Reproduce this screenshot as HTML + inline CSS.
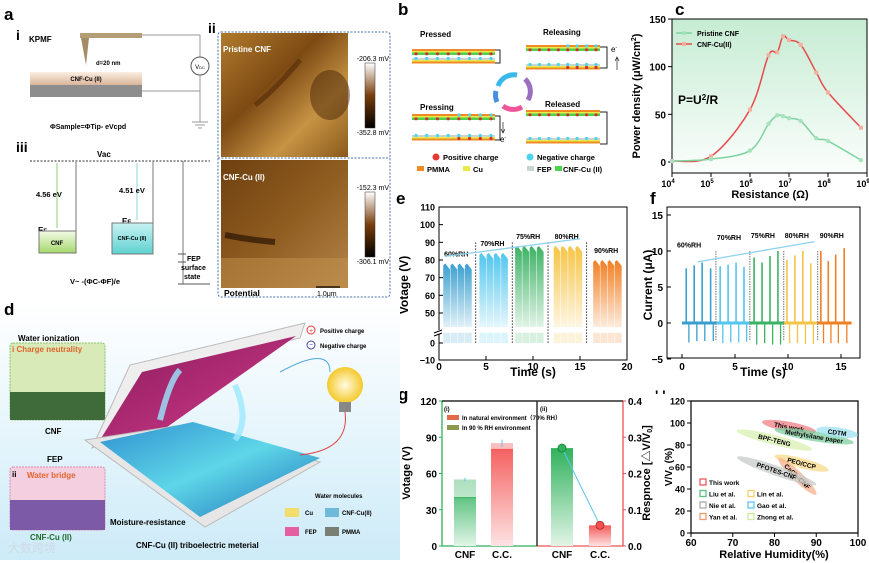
<!DOCTYPE html>
<html><head><meta charset="utf-8"><style>
html,body{margin:0;padding:0;background:#fff}
svg{display:block;font-family:"Liberation Sans","Noto Sans CJK SC",sans-serif}
.b{font-weight:bold}
</style></head><body>
<svg id="fig" width="869" height="563" viewBox="0 0 869 563" xmlns="http://www.w3.org/2000/svg">
<defs>
<linearGradient id="gBeige" x1="0" y1="0" x2="0" y2="1"><stop offset="0" stop-color="#fbeee2"/><stop offset="1" stop-color="#d9b59a"/></linearGradient>
<linearGradient id="gCnf" x1="0" y1="0" x2="0" y2="1"><stop offset="0" stop-color="#f4fbe6"/><stop offset="1" stop-color="#a5d86b"/></linearGradient>
<linearGradient id="gCu" x1="0" y1="0" x2="0" y2="1"><stop offset="0" stop-color="#c9f3f3"/><stop offset="1" stop-color="#5ed1cf"/></linearGradient>
<linearGradient id="gAfm" x1="0" y1="0" x2="1" y2="1"><stop offset="0" stop-color="#b07a2c"/><stop offset=".4" stop-color="#7d4a14"/><stop offset=".7" stop-color="#c69344"/><stop offset="1" stop-color="#8a5a1c"/></linearGradient>
<linearGradient id="gAfm2" x1="0" y1="0" x2="1" y2="1"><stop offset="0" stop-color="#6e4010"/><stop offset=".5" stop-color="#8f5c20"/><stop offset="1" stop-color="#b48448"/></linearGradient>
<linearGradient id="gBar" x1="0" y1="1" x2="0" y2="0"><stop offset="0" stop-color="#000"/><stop offset=".5" stop-color="#7a3e0c"/><stop offset="1" stop-color="#fff"/></linearGradient>
<linearGradient id="gC" x1="0" y1="0" x2="0" y2="1"><stop offset="0" stop-color="#c6ecd3"/><stop offset="1" stop-color="#fbfefc"/></linearGradient>
<linearGradient id="gD" x1="0" y1="0" x2="0" y2="1"><stop offset="0" stop-color="#fff"/><stop offset="1" stop-color="#cdebf8"/></linearGradient>
<linearGradient id="gMag" x1="0" y1="0" x2="1" y2="1"><stop offset="0" stop-color="#8a1a5a"/><stop offset="1" stop-color="#d23d8c"/></linearGradient>
<linearGradient id="gBlue" x1="0" y1="0" x2="1" y2="1"><stop offset="0" stop-color="#2f8fd0"/><stop offset=".5" stop-color="#5ed6e8"/><stop offset="1" stop-color="#1d6fb8"/></linearGradient>
<linearGradient id="gGreenBar" x1="0" y1="0" x2="0" y2="1"><stop offset="0" stop-color="#2fb15b"/><stop offset="1" stop-color="#e2f5e8"/></linearGradient>
<linearGradient id="gRedBar" x1="0" y1="0" x2="0" y2="1"><stop offset="0" stop-color="#f45a5a"/><stop offset="1" stop-color="#fde3e3"/></linearGradient>
<radialGradient id="gBulb"><stop offset="0" stop-color="#fffbe0"/><stop offset="1" stop-color="#f5c92c"/></radialGradient>
</defs>

<!-- ===== Panel a ===== -->
<g>
<text x="4" y="20" font-size="17" class="b">a</text>
<text x="16" y="40" font-size="14" class="b">i</text>
<text x="29" y="42" font-size="8" class="b">KPMF</text>
<rect x="80" y="33" width="62" height="5" fill="#b49e78"/>
<polygon points="81,38 89,38 86,65" fill="#a48c66"/>
<text x="96" y="65" font-size="6" class="b">d=20 nm</text>
<rect x="30" y="72" width="112" height="13" fill="url(#gBeige)"/>
<text x="86" y="81" font-size="6" text-anchor="middle" class="b">CNF-Cu (II)</text>
<rect x="30" y="85" width="112" height="12" fill="#8d8d8d"/>
<path d="M142 35 H200 V57 M200 75 V122 M142 91 H200 M192 122 H208 M195 125 H205 M198 128 H202" stroke="#999" fill="none"/>
<circle cx="200" cy="66" r="9" fill="#fff" stroke="#555"/>
<text x="200" y="69" font-size="6" text-anchor="middle">V<tspan font-size="4">DC</tspan></text>
<text x="50" y="129" font-size="7" class="b">ΦSample=ΦTip- eVcpd</text>
<text x="208" y="33" font-size="14" class="b">ii</text>
<text x="16" y="152" font-size="14" class="b">iii</text>
<line x1="30" y1="161" x2="210" y2="161" stroke="#333" stroke-dasharray="2,1.5"/>
<text x="97" y="157" font-size="8" class="b">Vac</text>
<line x1="76" y1="161" x2="76" y2="231" stroke="#777"/>
<line x1="57" y1="163" x2="57" y2="228" stroke="#8fd16a"/>
<text x="36" y="197" font-size="7.5" class="b">4.56 eV</text>
<text x="38" y="233" font-size="8" class="b">E<tspan font-size="6">F</tspan></text>
<rect x="39" y="231" width="37" height="22" fill="url(#gCnf)" stroke="#777"/>
<text x="57" y="245" font-size="6" text-anchor="middle" class="b">CNF</text>
<line x1="153" y1="161" x2="153" y2="223" stroke="#777"/>
<line x1="137" y1="163" x2="137" y2="220" stroke="#8ad9e0"/>
<text x="119" y="193" font-size="7.5" class="b">4.51 eV</text>
<text x="122" y="224" font-size="8" class="b">E<tspan font-size="6">F</tspan></text>
<rect x="112" y="223" width="41" height="31" fill="url(#gCu)" stroke="#777"/>
<text x="132" y="240" font-size="5.5" text-anchor="middle" class="b">CNF-Cu (II)</text>
<line x1="183" y1="161" x2="183" y2="284" stroke="#777"/>
<path d="M178 254 H186 M178 262 H186 M178 284 H210" stroke="#555"/>
<text x="187" y="261" font-size="7" class="b">FEP</text>
<text x="181" y="270" font-size="7" class="b">surface</text>
<text x="184" y="279" font-size="7" class="b">state</text>
<text x="70" y="284" font-size="7.5" class="b">V~ -(ΦC-ΦF)/e</text>
<rect x="218" y="32" width="172" height="265" rx="3" fill="none" stroke="#4a6fa8" stroke-dasharray="2,1.5"/>
<line x1="218" y1="158" x2="390" y2="158" stroke="#4a6fa8" stroke-dasharray="2,1.5"/>
<rect x="221" y="33" width="127" height="124" fill="url(#gAfm)"/>
<path d="M300 60 Q275 90 255 105" stroke="#5a300a" stroke-width="5" fill="none" opacity=".7"/>
<ellipse cx="330" cy="95" rx="20" ry="25" fill="#4a2606" opacity=".5"/>
<rect x="221" y="160" width="127" height="128" fill="url(#gAfm2)"/>
<path d="M225 235 Q250 240 275 242" stroke="#2a1403" stroke-width="6" fill="none" opacity=".7"/>
<rect x="221" y="258" width="127" height="30" fill="#c49450" opacity=".5"/>
<text x="223" y="52" font-size="8" fill="#fff" class="b">Pristine CNF</text>
<text x="223" y="180" font-size="8" fill="#fff" class="b">CNF-Cu (II)</text>
<rect x="365" y="63" width="10" height="65" fill="url(#gBar)" stroke="#333" stroke-width=".5"/>
<rect x="365" y="192" width="10" height="65" fill="url(#gBar)" stroke="#333" stroke-width=".5"/>
<text x="389" y="61" font-size="7" text-anchor="end">-206.3 mV</text>
<text x="389" y="135" font-size="7" text-anchor="end">-352.8 mV</text>
<text x="389" y="190" font-size="7" text-anchor="end">-152.3 mV</text>
<text x="389" y="264" font-size="7" text-anchor="end">-306.1 mV</text>
<text x="224" y="296" font-size="8.5" class="b">Potential</text>
<line x1="316" y1="287" x2="340" y2="287" stroke="#000" stroke-width="1.2"/>
<text x="317" y="296" font-size="7">1.0μm</text>
</g>

<!-- ===== Panel b ===== -->
<g id="panelB">
<text x="398" y="15" font-size="17" class="b">b</text>
<text x="420" y="37" font-size="8" class="b">Pressed</text>
<text x="543" y="35" font-size="8" class="b">Releasing</text>
<text x="420" y="110" font-size="8" class="b">Pressing</text>
<text x="545" y="107" font-size="8" class="b">Released</text>
<path d="M495 50 H500 V63 H495 M600 47 H607 V68 H600 M495 116 H500 V140 H495 M600 112 H607 V144 H600" stroke="#222" fill="none"/>
<text x="611" y="52" font-size="8">e<tspan font-size="5" dy="-3">-</tspan></text>
<path d="M617 70 V58 M615 61 L617 57 L619 61" stroke="#222" fill="none" stroke-width=".7"/>
<text x="500" y="142" font-size="8">e<tspan font-size="5" dy="-3">-</tspan></text>
<path d="M503 122 V132 M501 129 L503 133 L505 129" stroke="#222" fill="none" stroke-width=".7"/>
<g fill="none" stroke-width="5">
<path d="M498 86 A17 17 0 0 1 517 75" stroke="#39b8ea"/>
<path d="M525 79 A17 17 0 0 1 528 100" stroke="#9a6fc0"/>
<path d="M522 107 A17 17 0 0 1 503 106" stroke="#f0559a"/>
<path d="M497 102 A17 17 0 0 1 496 91" stroke="#4b8fe0"/>
</g>
<circle cx="436" cy="157" r="3.5" fill="#e53935"/><text x="443" y="160" font-size="7.5" class="b">Positive charge</text>
<circle cx="530" cy="157" r="3.5" fill="#4fd2ee"/><text x="537" y="160" font-size="7.5" class="b">Negative charge</text>
<rect x="417" y="166" width="7" height="5" fill="#f08a24"/><text x="427" y="172" font-size="7.5" class="b">PMMA</text>
<rect x="463" y="166" width="7" height="5" fill="#e7ea4a"/><text x="473" y="172" font-size="7.5" class="b">Cu</text>
<rect x="527" y="166" width="7" height="5" fill="#c8d6cf"/><text x="537" y="172" font-size="7.5" class="b">FEP</text>
<rect x="555" y="166" width="7" height="5" fill="#4bd44b"/><text x="563" y="172" font-size="7.5" class="b">CNF-Cu (II)</text>
</g>

<!-- ===== Panel c ===== -->
<g id="panelC">
<text x="675" y="15" font-size="17" class="b">c</text>
<rect x="672" y="19" width="195" height="154" fill="url(#gC)" stroke="#000"/>
<text transform="translate(640,96) rotate(-90)" font-size="11" text-anchor="middle" class="b">Power density (μW/cm<tspan font-size="7" dy="-4">2</tspan><tspan dy="4">)</tspan></text>
<text x="770" y="198" font-size="11" text-anchor="middle" class="b">Resistance (Ω)</text>
<text x="678" y="104" font-size="12" class="b">P=U<tspan font-size="8" dy="-4">2</tspan><tspan dy="4">/R</tspan></text>
<line x1="676" y1="33" x2="692" y2="33" stroke="#7fd3a0" stroke-width="1.5"/><circle cx="684" cy="33" r="2" fill="#9fe0b8"/>
<text x="697" y="36" font-size="7" class="b">Pristine CNF</text>
<line x1="676" y1="44" x2="692" y2="44" stroke="#e84a4a" stroke-width="1.5"/><rect x="682" y="42" width="4" height="4" fill="#f2b0a0"/>
<text x="697" y="47" font-size="7" class="b">CNF-Cu(II)</text>
</g>

<!-- ===== Panel e ===== -->
<g id="panelE">
<text x="396" y="204" font-size="17" class="b">e</text>
<rect x="439" y="207" width="188" height="153" fill="none" stroke="#000"/>
<text transform="translate(408,285) rotate(-90)" font-size="12" text-anchor="middle" class="b">Votage (V)</text>
<text x="533" y="376" font-size="12" text-anchor="middle" class="b">Time (s)</text>
</g>

<!-- ===== Panel f ===== -->
<g id="panelF">
<text x="650" y="204" font-size="17" class="b">f</text>
<rect x="667" y="207" width="193" height="151" fill="none" stroke="#000"/>
<text transform="translate(652,285) rotate(-90)" font-size="12" text-anchor="middle" class="b">Current (μA)</text>
<text x="763" y="376" font-size="12" text-anchor="middle" class="b">Time (s)</text>
</g>

<!-- ===== Panel g ===== -->
<g id="panelG">
<text x="398" y="400" font-size="17" class="b">g</text>
<text transform="translate(410,473) rotate(-90)" font-size="11" text-anchor="middle" class="b">Votage (V)</text>
<text transform="translate(650,473) rotate(-90)" font-size="11" text-anchor="middle" class="b">Respnoce [△V/V<tspan font-size="7" dy="2">0</tspan><tspan dy="-2">]</tspan></text>
<text x="444" y="411" font-size="6" class="b">(i)</text>
<text x="540" y="411" font-size="6" class="b">(ii)</text>
<rect x="447" y="415" width="12" height="5" fill="#e2694e"/><text x="462" y="420" font-size="6" class="b">In natural environment（70% RH）</text>
<rect x="447" y="425" width="12" height="5" fill="#8c9a4e"/><text x="462" y="430" font-size="6" class="b">In 90 % RH environment</text>
</g>

<!-- ===== Panel h ===== -->
<g id="panelH">
<text x="655" y="400" font-size="14" class="b">' '</text>
<text transform="translate(672,467) rotate(-90)" font-size="10" text-anchor="middle" class="b">V/V<tspan font-size="7" dy="2">0</tspan><tspan dy="-2"> (%)</tspan></text>
<text x="774" y="558" font-size="11" text-anchor="middle" class="b">Relative Humidity(%)</text>
</g>

<!-- ===== Panel d ===== -->
<g>
<rect x="0" y="303" width="400" height="257" fill="url(#gD)"/>
<text x="4" y="315" font-size="17" class="b">d</text>
<text x="18" y="341" font-size="8" class="b">Water ionization</text>
<rect x="10" y="343" width="95" height="77" rx="3" fill="#d7eab8" stroke="#8bc36a" stroke-dasharray="2,1"/>
<rect x="10" y="392" width="95" height="28" fill="#3f6a3a"/>
<text x="12" y="352" font-size="8" fill="#e0642c" class="b">i Charge neutrality</text>
<text x="45" y="434" font-size="8" class="b">CNF</text>
<text x="47" y="462" font-size="8" class="b">FEP</text>
<rect x="10" y="467" width="95" height="63" rx="3" fill="#f4cfe0" stroke="#e08ab0" stroke-dasharray="2,1"/>
<rect x="10" y="500" width="95" height="30" fill="#7c5aa8"/>
<text x="12" y="477" font-size="8" class="b">ii</text>
<text x="27" y="478" font-size="8" fill="#e0642c" class="b">Water bridge</text>
<text x="30" y="540" font-size="8" fill="#1f6b2a" class="b">CNF-Cu (II)</text>
<polygon points="92,448 130,365 305,323 300,338 143,375 100,445" fill="#eee" stroke="#bbb"/>
<polygon points="100,440 142,372 296,336 160,432" fill="url(#gMag)"/>
<polygon points="85,440 188,424 320,462 205,527" fill="#e6e6e6" stroke="#bbb"/>
<polygon points="100,442 193,422 320,458 200,517" fill="url(#gBlue)"/>
<path d="M160 420 Q170 380 180 370 M235 385 Q250 420 235 440" stroke="#9be8ff" stroke-width="6" fill="none" opacity=".8"/>
<circle cx="345" cy="385" r="18" fill="url(#gBulb)"/>
<rect x="339" y="402" width="12" height="10" fill="#888"/>
<path d="M280 372 Q330 345 330 372" stroke="#4aa8e0" fill="none"/>
<path d="M345 412 Q350 450 300 455" stroke="#e04040" fill="none"/>
<circle cx="311" cy="330" r="4" fill="#fff" stroke="#e33"/><text x="311" y="333" font-size="7" fill="#e33" text-anchor="middle">+</text>
<text x="320" y="333" font-size="6" class="b">Positive charge</text>
<circle cx="311" cy="345" r="4" fill="#fff" stroke="#44a"/><text x="311" y="347" font-size="7" fill="#44a" text-anchor="middle">−</text>
<text x="320" y="348" font-size="6" class="b">Negative charge</text>
<text x="315" y="498" font-size="6" class="b">Water molecules</text>
<rect x="285" y="508" width="14" height="9" fill="#f2dc6a"/><text x="305" y="515" font-size="6" class="b">Cu</text>
<rect x="325" y="508" width="14" height="9" fill="#6fb9d9"/><text x="342" y="515" font-size="6" class="b">CNF-Cu(II)</text>
<rect x="285" y="527" width="14" height="9" fill="#e45fa0"/><text x="305" y="534" font-size="6" class="b">FEP</text>
<rect x="325" y="527" width="14" height="9" fill="#7a7f74"/><text x="342" y="534" font-size="6" class="b">PMMA</text>
<text x="110" y="525" font-size="8" class="b">Moisture-resistance</text>
<text x="136" y="548" font-size="8" class="b">CNF-Cu (II) triboelectric meterial</text>
<text x="8" y="552" font-size="12" fill="#cfdbe6">大数跨境</text>
</g>
</svg>
<script>
var NS="http://www.w3.org/2000/svg";
function mk(parent,tag,attrs){var e=document.createElementNS(NS,tag);for(var k in attrs)e.setAttribute(k,attrs[k]);parent.appendChild(e);return e;}
function txt(parent,x,y,s,size,anchor,extra){var t=mk(parent,'text',{x:x,y:y,'font-size':size,'text-anchor':anchor||'start'});if(extra)for(var k in extra)t.setAttribute(k,extra[k]);t.textContent=s;return t;}

/* ---------- Panel c data ---------- */
var cResist=[1e4,1e5,1e6,3e6,5e6,7e6,1e7,2e7,5e7,1e8,7e8];
var cRed=[1,6,55,112,115,132,128,123,94,73,36];
var cGreen=[1,3,12,40,49,48,46,43,25,22,2];
var cYTicks=[0,50,100,150];
var cXTickExp=[4,5,6,7,8,9];

/* ---------- Panel e data ---------- */
var eGroups=['60%RH','70%RH','75%RH','80%RH','90%RH'];
var eGroupStart=[0.45,4.3,8.1,12.2,16.4];
var ePeaks=[78,84,88,88,80];
var eDividers=[3.9,7.8,11.6,15.7];
var eYTicksTop=[50,60,70,80,90,100,110];
var eYTicksBot=[-10,0];
var eXTicks=[0,5,10,15,20];
var eColors=['#3a9fcf','#52c6ee','#3cb264','#f6c445','#f17f23'];

/* ---------- Panel f data ---------- */
var fTimes=[0.4,1.15,1.9,2.7, 3.6,4.35,5.1,5.85, 6.8,7.55,8.3,9.05, 9.9,10.65,11.4,12.15, 13.1,13.8,14.5,15.3];
var fPeaks=[7.6,8.0,8.4,7.6, 7.9,8.1,8.4,7.8, 9.1,8.4,9.3,10.0, 8.8,9.4,10.0,8.3, 10.0,8.6,9.5,10.4];
var fNeg=[-2.7,-2.5,-2.5,-2.5, -2.8,-2.7,-2.7,-2.6, -3.0,-2.8,-3.0,-3.0, -2.8,-2.8,-2.9,-2.9, -2.8,-2.8,-2.8,-2.8];
var fDividers=[3.2,6.4,9.6,12.8];
var fYTicks=[-5,0,5,10,15];
var fXTicks=[0,5,10,15];
var fGroupLabelT=[0,3.2,6.4,9.6,12.9];
var fGroupLabelV=[10.5,11.5,11.8,11.8,11.8];

/* ---------- Panel g data ---------- */
var gCats=['CNF','C.C.','CNF','C.C.'];
var gNatural=[55,85];
var gHumid=[40,80];
var gErr=[1.5,3];
var gResponse=[0.27,0.057];
var gYTicks=[0,30,60,90,120];
var gRTicks=[0.0,0.1,0.2,0.3,0.4];

/* ---------- Panel h data ---------- */
var hNames=['This work','Methylsilane paper','CDTM','BPF-TENG','PEO/CCP','CaCl₂-CNF','PFOTES-CNF'];
var hX1=[77,80,90,71,80,81,71];
var hY1=[101,94,94,93,70,68,69];
var hX2=[90,99,100,89,93,90,90];
var hY2=[92,82,89,76,57,35,44];
var hColors=['#f07f86','#7fcf9f','#9fe2f2','#d9f0b0','#f8d98a','#f6b08c','#c7cbc9'];
var hXTicks=[60,70,80,90,100];
var hYTicks=[0,20,40,60,80,100,120];
var hLegend=['This work','Liu et al.','Nie et al.','Yan et al.','Lin et al.','Gao et al.','Zhong et al.'];
var hLegendColors=['#ee5a5a','#5cc07e','#aaaaaa','#f59a6a','#f6cf6a','#5ec9ee','#cfeaa0'];

function smoothPath(pts){
  var d='M'+pts[0][0]+','+pts[0][1];
  for(var i=0;i<pts.length-1;i++){
    var p0=pts[i-1]||pts[i],p1=pts[i],p2=pts[i+1],p3=pts[i+2]||p2;
    var c1x=p1[0]+(p2[0]-p0[0])/6,c1y=p1[1]+(p2[1]-p0[1])/6,c2x=p2[0]-(p3[0]-p1[0])/6,c2y=p2[1]-(p3[1]-p1[1])/6;
    d+=' C'+c1x+','+c1y+' '+c2x+','+c2y+' '+p2[0]+','+p2[1];
  }
  return d;
}

/* ---- draw b stacks ---- */
(function(){
  var g=document.getElementById('panelB');
  function topPlate(x,y,w,negFrom){
    var s=mk(g,'g',{});
    
    
    mk(s,'rect',{x:x,y:y,width:w,height:2,fill:'#f08a24'});
    mk(s,'rect',{x:x,y:y+2,width:w,height:1.5,fill:'#e7ea4a'});
    mk(s,'rect',{x:x,y:y+3.5,width:w,height:2.5,fill:'#4bd44b'});
    for(var i=0;i<8;i++){var cx=x+4+i*(w-8)/7;mk(s,'circle',{cx:cx,cy:y+4.8,r:1.6,fill:'#d62e2e'});if(negFrom!==null&&i>=negFrom)mk(s,'circle',{cx:cx,cy:y+1,r:1.6,fill:'#4fd2ee'});}
  }
  function botPlate(x,y,w,posFrom){
    var s=mk(g,'g',{});
    
    
    mk(s,'rect',{x:x,y:y,width:w,height:2,fill:'#c8d6cf'});
    mk(s,'rect',{x:x,y:y+2,width:w,height:1.5,fill:'#e7ea4a'});
    mk(s,'rect',{x:x,y:y+3.5,width:w,height:2,fill:'#f08a24'});
    for(var i=0;i<8;i++){var cx=x+4+i*(w-8)/7;mk(s,'circle',{cx:cx,cy:y+0.5,r:1.6,fill:'#4fd2ee'});if(posFrom!==null&&i>=posFrom)mk(s,'circle',{cx:cx,cy:y+3.5,r:1.6,fill:'#d62e2e'});}
  }
  topPlate(412,49,83,null); botPlate(412,58,83,null);
  topPlate(526,45,74,4); botPlate(526,64,74,4);
  topPlate(412,114,83,4); botPlate(412,135,83,4);
  topPlate(526,110,74,null); botPlate(526,138,74,null);
})();

/* ---- draw c ---- */
(function(){
  var g=document.getElementById('panelC');
  var x=function(r){return 672+(Math.log10(r)-4)*39;};
  var y=function(v){return 162-v*143/150;};
  cYTicks.forEach(function(v){mk(g,'line',{x1:672,x2:668,y1:y(v),y2:y(v),stroke:'#000'});txt(g,666,y(v)+4,String(v),10,'end',{'font-weight':'bold'});});
  cXTickExp.forEach(function(e){var t=txt(g,x(Math.pow(10,e))-4,187,'10',9,'middle',{'font-weight':'bold'});var s=document.createElementNS(NS,'tspan');s.setAttribute('font-size','6');s.setAttribute('dy','-4');s.textContent=String(e);t.appendChild(s);mk(g,'line',{x1:x(Math.pow(10,e)),x2:x(Math.pow(10,e)),y1:173,y2:177,stroke:'#000'});});
  var rp=cResist.map(function(r,i){return [x(r),y(cRed[i])];});
  var gp=cResist.map(function(r,i){return [x(r),y(cGreen[i])];});
  var lr=mk(g,'path',{d:smoothPath(rp),fill:'none',stroke:'#e84a4a','stroke-width':1.5});
  
  
  var lg=mk(g,'path',{d:smoothPath(gp),fill:'none',stroke:'#7fd3a0','stroke-width':1.5});
  
  
  rp.forEach(function(p){var m=mk(g,'rect',{x:p[0]-2,y:p[1]-2,width:4,height:4,fill:'#f2b0a0'});});
  gp.forEach(function(p){var m=mk(g,'circle',{cx:p[0],cy:p[1],r:2.2,fill:'#a8e3be'});});
})();

/* ---- draw e ---- */
(function(){
  var g=document.getElementById('panelE');
  var x=function(t){return 439+t*9.4;};
  var y=function(v){return v>=40?313-(v-50)*1.767:343-v*1.7;};
  eYTicksTop.concat(eYTicksBot).forEach(function(v){mk(g,'line',{x1:439,x2:443,y1:y(v),y2:y(v),stroke:'#000'});txt(g,435,y(v)+3.5,v<0?'−'+(-v):String(v),9,'end',{'font-weight':'bold'});});
  eXTicks.forEach(function(v){mk(g,'line',{x1:x(v),x2:x(v),y1:360,y2:356,stroke:'#000'});txt(g,x(v),370,String(v),10,'middle',{'font-weight':'bold'});});
  mk(g,'rect',{x:434,y:330,width:10,height:4,fill:'#fff'});
  mk(g,'path',{d:'M434 333 l8 -3 M434 336 l8 -3',stroke:'#000'});
  eGroups.forEach(function(name,gi){
    var gid='eg'+gi;var defs=document.querySelector('defs');
    var lgd=mk(defs,'linearGradient',{id:gid,x1:0,y1:0,x2:0,y2:1});
    mk(lgd,'stop',{offset:0,'stop-color':eColors[gi]});mk(lgd,'stop',{offset:1,'stop-color':eColors[gi],'stop-opacity':0.15});
    for(var k=0;k<4;k++){
      var t0=eGroupStart[gi]+k*0.77;var x0=x(t0),x1=x(t0+0.72);var pk=y(ePeaks[gi]);
      var p=mk(g,'polygon',{points:x0+','+y(42)+' '+x0+','+(pk+2)+' '+(x0+2)+','+pk+' '+x1+','+(pk+6)+' '+x1+','+y(42),fill:'url(#'+gid+')'});
      
      
      mk(g,'rect',{x:x0,y:y(6),width:x1-x0,height:y(0)-y(6),fill:eColors[gi],opacity:0.2});
    }
    txt(g,x(eGroupStart[gi]+0.1),y(ePeaks[gi]+4),name,7,'start',{'font-weight':'bold'});
  });
  eDividers.forEach(function(t){mk(g,'line',{x1:x(t),x2:x(t),y1:y(ePeaks[0]+12),y2:y(0),stroke:'#333','stroke-dasharray':'1.5,1.5'});});
  mk(g,'path',{d:'M'+x(0.6)+' '+y(82)+' L'+x(15)+' '+y(92),stroke:'#8fd3ef','stroke-width':1.3,fill:'none'});
})();

/* ---- draw f ---- */
(function(){
  var g=document.getElementById('panelF');
  var x=function(t){return 682+t*10.6;};
  var y=function(v){return 323-v*7.2;};
  fYTicks.forEach(function(v){mk(g,'line',{x1:667,x2:671,y1:y(v),y2:y(v),stroke:'#000'});txt(g,663,y(v)+4,v<0?'−'+(-v):String(v),10,'end',{'font-weight':'bold'});});
  fXTicks.forEach(function(v){mk(g,'line',{x1:x(v),x2:x(v),y1:358,y2:354,stroke:'#000'});txt(g,x(v),370,String(v),10,'middle',{'font-weight':'bold'});});
  fTimes.forEach(function(t,i){
    var c=eColors[Math.floor(i/4)];
    var l=mk(g,'line',{x1:x(t),x2:x(t),y1:y(fPeaks[i]),y2:y(0),stroke:c,'stroke-width':1.6});
    
    
    mk(g,'line',{x1:x(t+0.25),x2:x(t+0.25),y1:y(0),y2:y(fNeg[i]),stroke:c,'stroke-width':1.3});
  });
  eGroups.forEach(function(n,gi){
    var a=gi*3.2;var b=a+3.2;if(gi==4)b=16;
    mk(g,'line',{x1:x(a),x2:x(b),y1:y(0),y2:y(0),stroke:eColors[gi],'stroke-width':3});
    txt(g,x(fGroupLabelT[gi])+(gi==0?-5:1),y(fGroupLabelV[gi]),n,7,'start',{'font-weight':'bold'});
  });
  fDividers.forEach(function(t){mk(g,'line',{x1:x(t),x2:x(t),y1:y(10),y2:y(-2.5),stroke:'#777','stroke-dasharray':'1.5,1'});});
  mk(g,'path',{d:'M'+x(1.5)+' '+y(8.5)+' L'+x(12.5)+' '+y(11.3),stroke:'#8fd3ef','stroke-width':1.3,fill:'none'});
})();

/* ---- draw g ---- */
(function(){
  var g=document.getElementById('panelG');
  var L=442,R=623,T=401,B=546;
  var y=function(v){return B-v*(B-T)/120;};
  var yr=function(v){return B-v*(B-T)/0.4;};
  var xc=[465,502,562,600];
  mk(g,'path',{d:'M'+L+' '+T+' V'+B+' H537',stroke:'#2fb15b',fill:'none','stroke-width':1.3});
  mk(g,'path',{d:'M537 '+B+' H'+R+' V'+T,stroke:'#f05050',fill:'none','stroke-width':1.3});
  mk(g,'line',{x1:L,x2:R,y1:T,y2:T,stroke:'#000','stroke-width':1.3});
  mk(g,'line',{x1:537,x2:537,y1:T,y2:B,stroke:'#333','stroke-width':1.5});
  gYTicks.forEach(function(v){mk(g,'line',{x1:L-3,x2:L,y1:y(v),y2:y(v),stroke:'#2fb15b'});txt(g,L-5,y(v)+4,String(v),10,'end',{'font-weight':'bold'});});
  gRTicks.forEach(function(v){mk(g,'line',{x1:R,x2:R+3,y1:yr(v),y2:yr(v),stroke:'#f05050'});txt(g,R+5,yr(v)+4,v.toFixed(1),10,'start',{'font-weight':'bold'});});
  gCats.forEach(function(c,i){txt(g,xc[i],558,c,10,'middle',{'font-weight':'bold'});});
  [0,1].forEach(function(i){
    var fill=i==0?'url(#gGreenBar)':'url(#gRedBar)';
    var r=mk(g,'rect',{x:xc[i]-11,y:y(gNatural[i]),width:22,height:B-y(gNatural[i]),fill:fill});
    
    
    mk(g,'rect',{x:xc[i]-11,y:y(gNatural[i]),width:22,height:y(gHumid[i])-y(gNatural[i]),fill:'#fff',opacity:0.6});
    mk(g,'line',{x1:xc[i]-11,x2:xc[i]+11,y1:y(gHumid[i]),y2:y(gHumid[i]),stroke:i==0?'#2fb15b':'#f45a5a','stroke-width':1});
    mk(g,'line',{x1:xc[i],x2:xc[i],y1:y(gNatural[i]+gErr[i]),y2:y(gNatural[i]-gErr[i]),stroke:'#5bc5ee'});
  });
  var rp=[];
  [0,1].forEach(function(i){
    var fill=i==0?'url(#gGreenBar)':'url(#gRedBar)';
    var r=mk(g,'rect',{x:xc[i+2]-11,y:yr(gResponse[i]),width:22,height:B-yr(gResponse[i]),fill:fill});
    
    
    rp.push([xc[i+2],yr(gResponse[i])]);
  });
  mk(g,'line',{x1:rp[0][0],y1:rp[0][1],x2:rp[1][0],y2:rp[1][1],stroke:'#5bc5ee'});
  mk(g,'circle',{cx:rp[0][0],cy:rp[0][1],r:4,fill:'#2fb15b',stroke:'#1d8a40'});
  mk(g,'circle',{cx:rp[1][0],cy:rp[1][1],r:4,fill:'#f05050',stroke:'#c03030'});
})();

/* ---- draw h ---- */
(function(){
  var g=document.getElementById('panelH');
  var x=function(v){return 691+(v-60)*167/40;};
  var y=function(v){return 533-v*132/120;};
  mk(g,'path',{d:'M691 401 V533 H858 V401 Z',stroke:'#000',fill:'none','stroke-width':1.2});
  hXTicks.forEach(function(v){mk(g,'line',{x1:x(v),x2:x(v),y1:533,y2:537,stroke:'#000'});txt(g,x(v),546,String(v),10,'middle',{'font-weight':'bold'});});
  hYTicks.forEach(function(v){mk(g,'line',{x1:687,x2:691,y1:y(v),y2:y(v),stroke:'#000'});txt(g,685,y(v)+3.5,String(v),9,'end',{'font-weight':'bold'});});
  hNames.forEach(function(n,i){
    var ax=x(hX1[i]),ay=y(hY1[i]),bx=x(hX2[i]),by=y(hY2[i]);
    var cx=(ax+bx)/2,cy=(ay+by)/2,len=Math.hypot(bx-ax,by-ay),ang=Math.atan2(by-ay,bx-ax)*180/Math.PI;
    var e=mk(g,'ellipse',{cx:cx,cy:cy,rx:len/2,ry:5,fill:hColors[i],opacity:0.75,transform:'rotate('+ang+' '+cx+' '+cy+')'});
    
    
    txt(g,cx,cy+2.5,n,6.5,'middle',{'font-weight':'bold',transform:'rotate('+ang+' '+cx+' '+cy+')'});
  });
  hLegend.forEach(function(n,i){
    var col=i<4?0:1,row=i<4?i:i-3;
    var lx=col==0?700:748,ly=485+row*11.5;
    mk(g,'rect',{x:lx,y:ly-6,width:6,height:6,fill:'none',stroke:hLegendColors[i],'stroke-width':1.3});
    txt(g,lx+9,ly,n,6.5,'start',{'font-weight':'bold'});
  });
})();
</script>
</body></html>
